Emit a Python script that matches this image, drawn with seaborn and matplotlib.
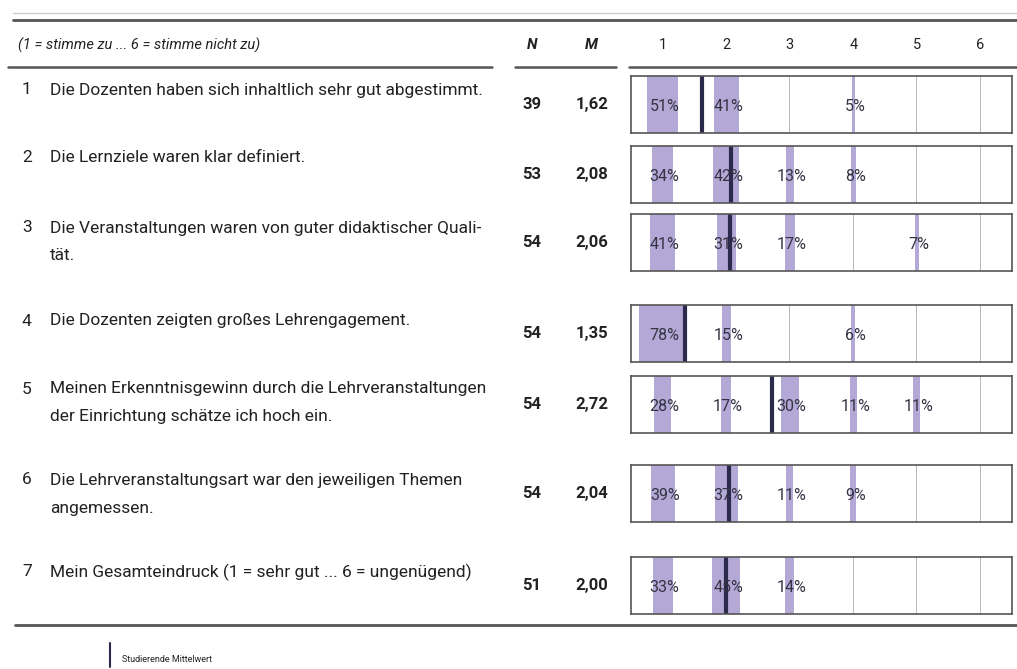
import matplotlib
matplotlib.use("Agg")
import matplotlib.pyplot as plt
import seaborn as sns

# Data
questions = [
    "Die Dozenten haben sich inhaltlich sehr gut abgestimmt.",
    "Die Lernziele waren klar definiert.",
    "Die Veranstaltungen waren von guter didaktischer Quali-\ntät.",
    "Die Dozenten zeigten großes Lehrengagement.",
    "Meinen Erkenntnisgewinn durch die Lehrveranstaltungen\nder Einrichtung schätze ich hoch ein.",
    "Die Lehrveranstaltungsart war den jeweiligen Themen\nangemessen.",
    "Mein Gesamteindruck (1 = sehr gut ... 6 = ungenügend)",
]
n_values = [39, 53, 54, 54, 54, 54, 51]
means = [1.62, 2.08, 2.06, 1.35, 2.72, 2.04, 2.00]
scale = [1, 2, 3, 4, 5, 6]
pct = [
    [51, 41, 0, 5, 0, 0],
    [34, 42, 13, 8, 0, 0],
    [41, 31, 17, 0, 7, 0],
    [78, 15, 0, 6, 0, 0],
    [28, 17, 30, 11, 11, 0],
    [39, 37, 11, 9, 0, 0],
    [33, 45, 14, 0, 0, 0],
]

sns.set_theme(style="white")
plt.rcParams["font.family"] = ["Roboto", "DejaVu Sans"]

W, H = 1017, 669
fig = plt.figure(figsize=(W / 100, H / 100), dpi=100)

# background axes in pixel coordinates for text and rules
bg = fig.add_axes([0, 0, 1, 1])
bg.set_xlim(0, W)
bg.set_ylim(H, 0)
bg.axis("off")

line_col = "#555555"
text_col = "#222222"
bar_col = "#b4a9d6"
zero_col = "#bbbbbb"
mean_col = "#2b2a4c"

# header rules
bg.plot([13, W], [13, 13], color="#cccccc", lw=1)
bg.plot([13, W], [20, 20], color=line_col, lw=2)
for x0, x1 in [(8, 492), (515, 616), (629, W)]:
    bg.plot([x0, x1], [67, 67], color=line_col, lw=1.8)
bg.plot([15, W], [625, 625], color=line_col, lw=2)

bg.text(18, 45, "(1 = stimme zu ... 6 = stimme nicht zu)", fontsize=10.5,
        style="italic", va="center", ha="left", color=text_col)
bg.text(532, 45, "N", fontsize=11, style="italic", weight="bold", ha="center", va="center", color=text_col)
bg.text(591, 45, "M", fontsize=11, style="italic", weight="bold", ha="center", va="center", color=text_col)

# legend
bg.plot([110, 110], [643, 667], color=mean_col, lw=1.5)
bg.text(122, 660, "Studierende Mittelwert", fontsize=6.5, va="center", ha="left", color=text_col)

# row layout (pixels)
q_y = [90, 158, 228, 321, 389, 480, 572]
box_top = [76, 146, 214, 305, 376, 465, 557]
box_h = 57
bx0, bx1 = 631, 1012

for i, q in enumerate(questions):
    bg.text(22, q_y[i], str(i + 1), fontsize=12.5, va="center", ha="left", color=text_col)
    for k, line in enumerate(q.split("\n")):
        bg.text(50, q_y[i] + k * 28, line, fontsize=12.5, va="center", ha="left", color=text_col)
    yc = box_top[i] + box_h / 2
    bg.text(532, yc, str(n_values[i]), fontsize=12, weight="bold", ha="center", va="center", color=text_col)
    bg.text(592, yc, f"{means[i]:.2f}".replace(".", ","), fontsize=12, weight="bold",
            ha="center", va="center", color=text_col)

    ax = fig.add_axes([bx0 / W, 1 - (box_top[i] + box_h) / H, (bx1 - bx0) / W, box_h / H])
    widths = [max(p / 100 * 0.97, 0.022) for p in pct[i]]
    colors = [bar_col if p > 0 else zero_col for p in pct[i]]
    ax.bar(scale, [1] * len(scale), width=widths, bottom=0, color=colors, linewidth=0)
    ax.axvline(means[i], color=mean_col, lw=3)
    for x, p in zip(scale, pct[i]):
        if p > 0:
            ax.text(x + 0.03, 0.46, f"{p}%", fontsize=11.5, ha="center", va="center", color="#333344")
    ax.set_xlim(0.5, 6.5)
    ax.set_ylim(0, 1)
    ax.set_xticks([])
    ax.set_yticks([])
    for s in ax.spines.values():
        s.set_color(line_col)
        s.set_linewidth(1.2)
    if i == 0:
        for x in scale:
            bg.text(bx0 + (x - 0.5) * (bx1 - bx0) / 6, 45, str(x), fontsize=10.5,
                    ha="center", va="center", color=text_col)

fig.savefig("out.png", dpi=100)
